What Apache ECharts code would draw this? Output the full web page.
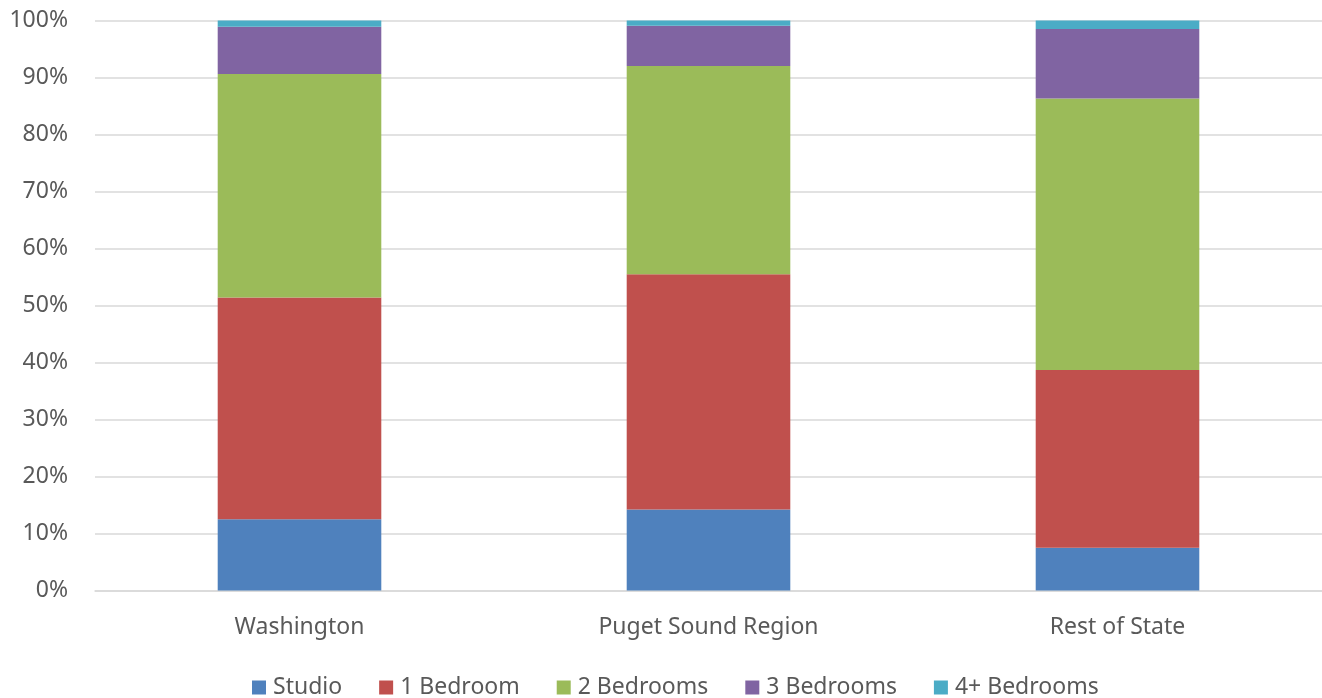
<!DOCTYPE html>
<html>
<head>
<meta charset="utf-8">
<script src="https://cdn.jsdelivr.net/npm/echarts@6/dist/echarts.min.js"></script>
<style>
html,body{margin:0;padding:0;background:#fff;}
#chart{width:1322px;height:698px;}
</style>
</head>
<body>
<div id="chart"></div>
<script>
const categories = ['Washington', 'Puget Sound Region', 'Rest of State'];
const seriesNames = ['Studio', '1 Bedroom', '2 Bedrooms', '3 Bedrooms', '4+ Bedrooms'];
const studio = [12.5, 14.2, 7.5];
const oneBedroom = [38.9, 41.3, 31.2];
const twoBedrooms = [39.2, 36.5, 47.6];
const threeBedrooms = [8.3, 7.1, 12.2];
const fourPlusBedrooms = [1.1, 0.9, 1.5];
const yTicks = [0, 10, 20, 30, 40, 50, 60, 70, 80, 90, 100];
const colors = ['#4f81bd', '#c0504d', '#9bbb59', '#8064a2', '#4bacc6'];

const values = [studio, oneBedroom, twoBedrooms, threeBedrooms, fourPlusBedrooms];
const font = 'Noto Sans';
const chart = echarts.init(document.getElementById('chart'));
chart.setOption({
  animation: false,
  color: colors,
  grid: { left: 95, right: 0, top: 20.5, bottom: 107.5 },
  legend: {
    left: 247, top: 671,
    itemWidth: 14, itemHeight: 14, itemGap: 37,
    icon: 'rect',
    textStyle: { fontFamily: font, fontSize: 23, color: '#595959', padding: [0, 0, 0, 2] },
    data: seriesNames
  },
  xAxis: {
    type: 'category',
    data: categories,
    axisLine: { show: true, lineStyle: { color: '#d9d9d9', width: 1.5 } },
    axisTick: { show: false },
    axisLabel: { fontFamily: font, fontSize: 23, color: '#595959', margin: 25 }
  },
  yAxis: {
    type: 'value',
    min: yTicks[0], max: yTicks[yTicks.length - 1], interval: 10,
    axisLine: { show: false },
    axisTick: { show: false },
    splitLine: { lineStyle: { color: '#d9d9d9', width: 1.5 } },
    axisLabel: { fontFamily: font, fontSize: 23, color: '#595959', margin: 27, formatter: '{value}%' }
  },
  series: seriesNames.map((name, i) => ({
    name: name,
    type: 'bar',
    stack: 'total',
    barWidth: '40%',
    data: values[i],
    itemStyle: { color: colors[i] }
  }))
});
</script>
</body>
</html>
